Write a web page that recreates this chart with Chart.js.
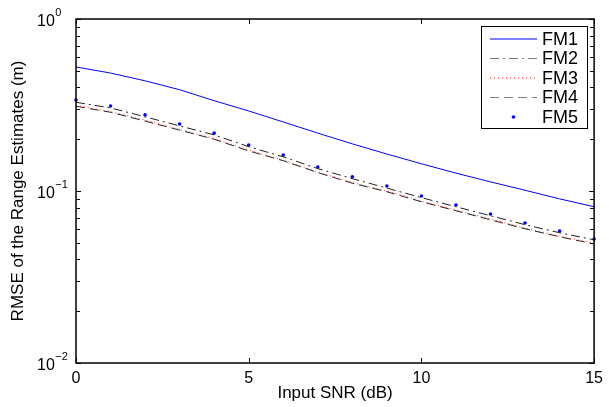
<!DOCTYPE html>
<html lang="en">
<head>
<meta charset="UTF-8">
<title>RMSE of the Range Estimates</title>
<script src="https://cdn.jsdelivr.net/npm/chart.js@4.4.0/dist/chart.umd.min.js"></script>
<style>
    body { margin: 0; background: #fff; }
    canvas { display: block; }
</style>
</head>
<body>
<canvas id="myChart" width="609" height="407"></canvas>
<script>
// values
const snr = [0, 1, 2, 3, 4, 5, 6, 7, 8, 9, 10, 11, 12, 13, 14, 15];
const fm1 = [0.526, 0.485, 0.437, 0.388, 0.335, 0.292, 0.252, 0.217, 0.188, 0.164, 0.144, 0.127, 0.113, 0.101, 0.090, 0.081];
const fm2 = [0.328, 0.304, 0.270, 0.239, 0.212, 0.181, 0.158, 0.135, 0.118, 0.104, 0.0915, 0.081, 0.0718, 0.0637, 0.0572, 0.052];
const fm3 = [0.314, 0.290, 0.258, 0.228, 0.202, 0.173, 0.151, 0.129, 0.112, 0.100, 0.0875, 0.0775, 0.0687, 0.0609, 0.0547, 0.0497];
const fm4 = [0.311, 0.287, 0.255, 0.226, 0.200, 0.171, 0.150, 0.128, 0.111, 0.099, 0.0866, 0.0768, 0.068, 0.0603, 0.0542, 0.0492];
const fm5 = [0.338, 0.312, 0.277, 0.245, 0.217, 0.185, 0.162, 0.138, 0.121, 0.107, 0.0935, 0.0829, 0.0735, 0.0652, 0.0585, 0.0526];
const seriesNames = ['FM1', 'FM2', 'FM3', 'FM4', 'FM5'];
const xTicks = [0, 5, 10, 15];
const yDecades = [1, 0.1, 0.01];
const yExponents = ['0', '\u22121', '\u22122'];

Chart.defaults.font.family = '"Liberation Sans", Arial, sans-serif';
Chart.defaults.color = '#000';

const toPoints = (ys) => ys.map((y, i) => ({ x: snr[i], y: y }));

// box, inward ticks, 10^n labels and the legend, drawn the matlab way
const matlabAxes = {
    id: 'matlabAxes',
    afterDraw(chart) {
        const ctx = chart.ctx;
        const a = chart.chartArea;
        const xs = chart.scales.x, ys = chart.scales.y;
        ctx.save();
        ctx.strokeStyle = '#000';
        ctx.lineWidth = 1;
        ctx.beginPath();
        xTicks.forEach(v => {
            const px = Math.round(xs.getPixelForValue(v)) + 0.5;
            ctx.moveTo(px, a.bottom); ctx.lineTo(px, a.bottom - 5);
            ctx.moveTo(px, a.top); ctx.lineTo(px, a.top + 5);
        });
        yDecades.forEach(d => {
            for (let m = 1; m <= 9; m++) {
                const v = d * m;
                if (v > 1.0001) continue;
                const len = m === 1 ? 5 : 4;
                const py = Math.round(ys.getPixelForValue(v)) + 0.5;
                ctx.moveTo(a.left, py); ctx.lineTo(a.left + len, py);
                ctx.moveTo(a.right, py); ctx.lineTo(a.right - len, py);
            }
        });
        ctx.stroke();

        ctx.lineWidth = 1.5;
        ctx.strokeRect(a.left, a.top, a.right - a.left, a.bottom - a.top);

        // y tick labels with superscript exponents
        ctx.fillStyle = '#000';
        ctx.textAlign = 'left';
        ctx.textBaseline = 'middle';
        yDecades.forEach((d, i) => {
            const py = ys.getPixelForValue(d);
            ctx.font = '16px "Liberation Sans", Arial, sans-serif';
            ctx.fillText('10', 37, py + 3);
            const w = ctx.measureText('10').width;
            ctx.font = '11px "Liberation Sans", Arial, sans-serif';
            ctx.fillText(yExponents[i], 37 + w + 0.5, py - 6);
        });

        // legend
        const lx = 481, ly = 26, lw = 106, lh = 102;
        ctx.fillStyle = '#fff';
        ctx.fillRect(lx, ly, lw, lh);
        ctx.lineWidth = 1;
        ctx.strokeStyle = '#000';
        ctx.strokeRect(lx + 0.5, ly + 0.5, lw, lh);
        chart.data.datasets.forEach((ds, i) => {
            const y = ly + 13 + i * 19.5;
            ctx.save();
            if (ds.showLine === false) {
                ctx.fillStyle = ds.pointBackgroundColor;
                ctx.beginPath();
                ctx.arc(513.5, y, 1.8, 0, Math.PI * 2);
                ctx.fill();
            } else {
                ctx.strokeStyle = ds.legendColor || ds.borderColor;
                ctx.lineWidth = ds.borderWidth;
                ctx.setLineDash(ds.borderDash || []);
                ctx.beginPath();
                ctx.moveTo(490, y); ctx.lineTo(537, y);
                ctx.stroke();
            }
            ctx.restore();
            ctx.fillStyle = '#000';
            ctx.font = '18px "Liberation Sans", Arial, sans-serif';
            ctx.textBaseline = 'middle';
            ctx.fillText(seriesNames[i], 542, y + 1);
        });
        ctx.restore();
    }
};

const ctx = document.getElementById('myChart').getContext('2d');
const myChart = new Chart(ctx, {
    type: 'line',
    data: {
        datasets: [{
            label: seriesNames[0],
            data: toPoints(fm1),
            borderColor: '#0000ff',
            borderWidth: 1,
            pointRadius: 0,
            tension: 0
        }, {
            label: seriesNames[1],
            data: toPoints(fm2),
            borderColor: '#222',
            legendColor: '#808080',
            borderWidth: 1,
            borderDash: [9, 4, 2, 4],
            pointRadius: 0,
            tension: 0
        }, {
            label: seriesNames[2],
            data: toPoints(fm3),
            borderColor: '#ff3030',
            borderWidth: 1,
            borderDash: [1, 3],
            pointRadius: 0,
            tension: 0
        }, {
            label: seriesNames[3],
            data: toPoints(fm4),
            borderColor: '#222',
            legendColor: '#808080',
            borderWidth: 1,
            borderDash: [9, 5],
            pointRadius: 0,
            tension: 0
        }, {
            label: seriesNames[4],
            data: toPoints(fm5),
            showLine: false,
            clip: 3,
            borderColor: '#0000ff',
            pointBackgroundColor: '#0000ff',
            pointBorderWidth: 0,
            pointRadius: 1.8
        }]
    },
    options: {
        responsive: false,
        animation: false,
        devicePixelRatio: 1,
        layout: { padding: { left: 0, right: 11, top: 19, bottom: 0 } },
        plugins: {
            legend: { display: false },
            tooltip: { enabled: false }
        },
        scales: {
            x: {
                type: 'linear',
                min: 0,
                max: 15,
                afterBuildTicks: (s) => { s.ticks = xTicks.map(v => ({ value: v })); },
                afterFit: (s) => { s.height = 44; },
                grid: { display: false, drawTicks: false },
                border: { display: false },
                ticks: { padding: 6, font: { size: 16 }, color: '#000' },
                title: {
                    display: true,
                    text: 'Input SNR (dB)',
                    font: { size: 17 },
                    color: '#000',
                    padding: { top: 0, bottom: 3 }
                }
            },
            y: {
                type: 'logarithmic',
                min: 0.01,
                max: 1,
                afterFit: (s) => { s.width = 76; },
                grid: { display: false, drawTicks: false },
                border: { display: false },
                ticks: { display: false },
                title: {
                    display: true,
                    text: 'RMSE of the Range Estimates (m)',
                    font: { size: 17 },
                    color: '#000',
                    padding: { top: 8, bottom: 0 }
                }
            }
        }
    },
    plugins: [matlabAxes]
});
</script>
</body>
</html>
